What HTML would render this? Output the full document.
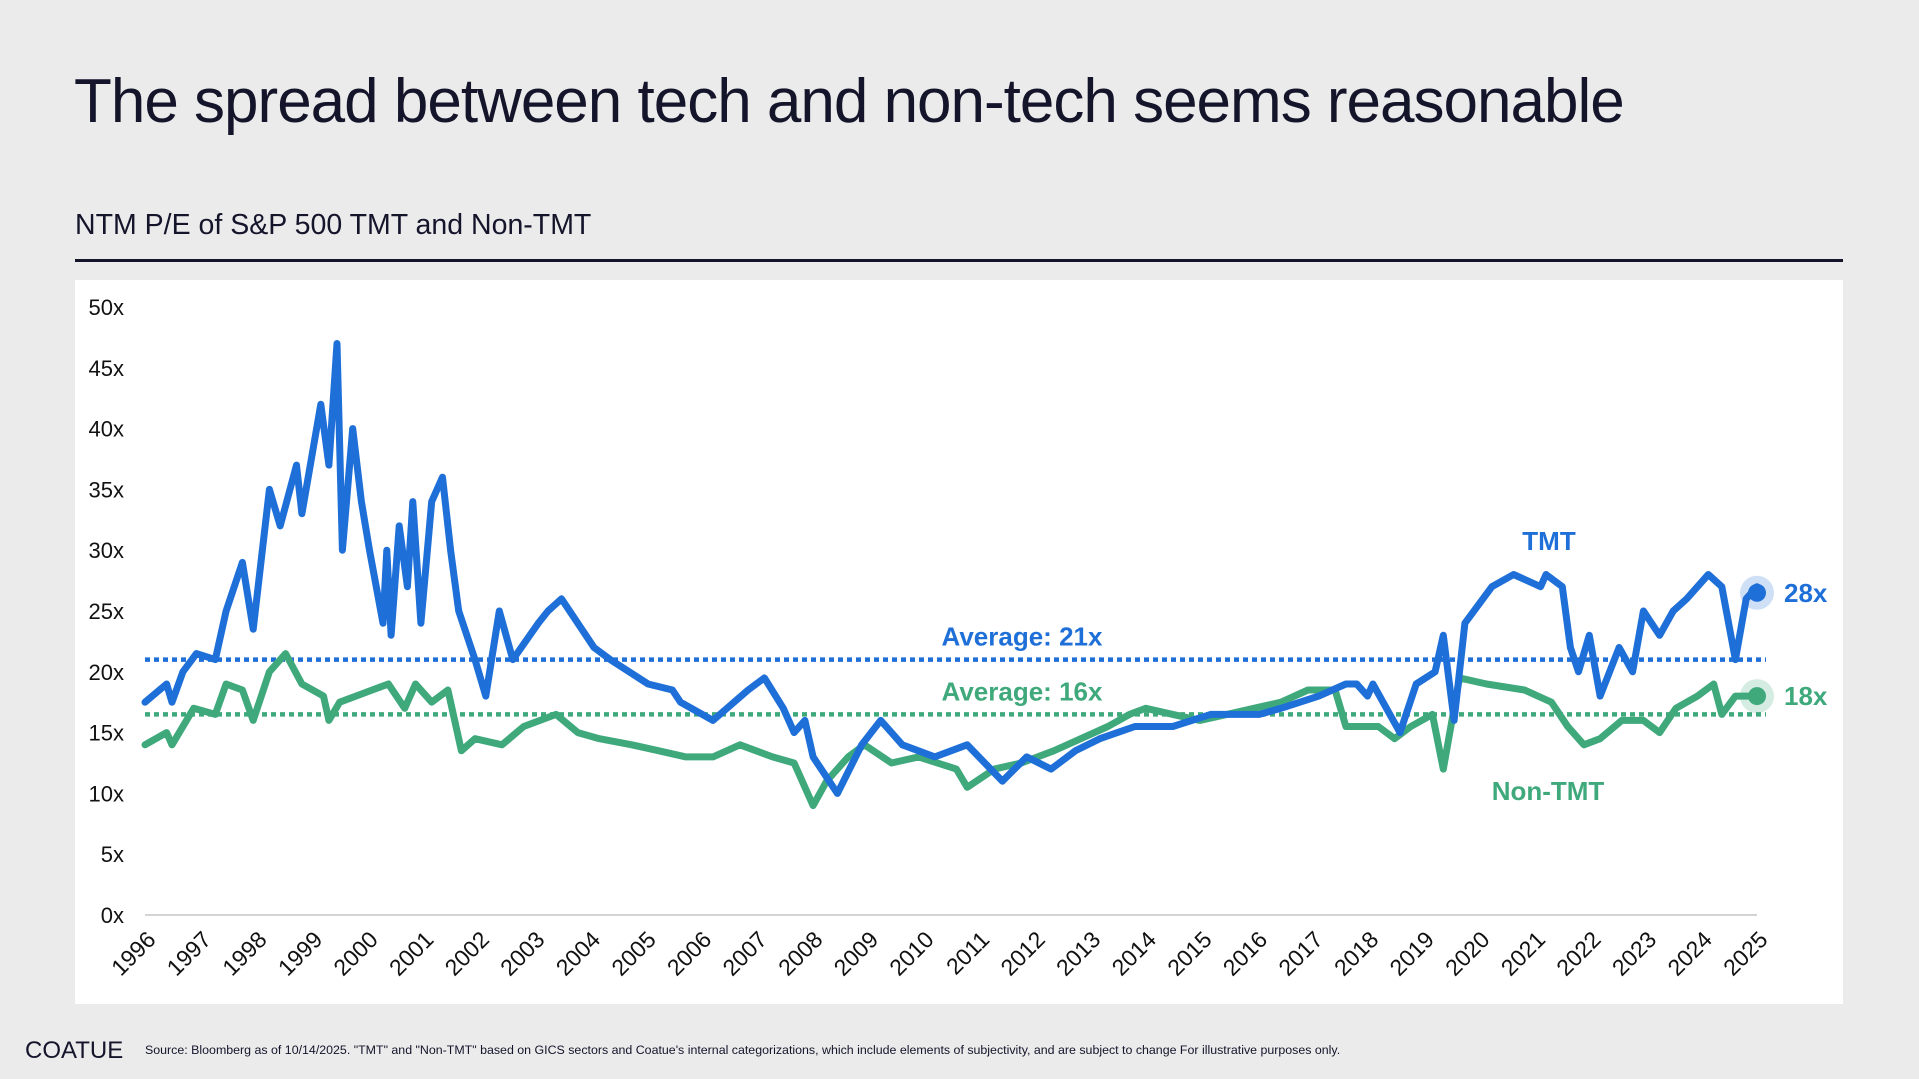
<!DOCTYPE html>
<html><head><meta charset="utf-8"><style>
body{margin:0;width:1919px;height:1079px;background:#ebebeb;font-family:"Liberation Sans",sans-serif;overflow:hidden;position:relative}
.t{position:absolute;white-space:nowrap}
</style></head><body>
<div class="t" style="left:74px;top:66px;font-size:62px;color:#14142b;letter-spacing:-1px">The spread between tech and non-tech seems reasonable</div>
<div class="t" style="left:75px;top:209px;font-size:28.5px;color:#14142b">NTM P/E of S&amp;P 500 TMT and Non-TMT</div>
<div style="position:absolute;left:75px;top:259px;width:1768px;height:3px;background:#14142b"></div>
<div style="position:absolute;left:75px;top:280px;width:1768px;height:724px;background:#fff"></div>
<svg id="chart" width="1919" height="1079" style="position:absolute;left:0;top:0" font-family="Liberation Sans, sans-serif"></svg>
<div class="t" style="left:25px;top:1037px;font-size:24px;color:#14142b">COATUE</div>
<div class="t" style="left:145px;top:1043px;font-size:12.4px;color:#14142b">Source: Bloomberg as of 10/14/2025. "TMT" and "Non-TMT" based on GICS sectors and Coatue's internal categorizations, which include elements of subjectivity, and are subject to change For illustrative purposes only.</div>
<script>
const yTicks=[0,5,10,15,20,25,30,35,40,45,50];
const xLabels=[1996,1997,1998,1999,2000,2001,2002,2003,2004,2005,2006,2007,2008,2009,2010,2011,2012,2013,2014,2015,2016,2017,2018,2019,2020,2021,2022,2023,2024,2025];
const tmtTime=[0,0.4,0.5,0.7,0.95,1.3,1.5,1.8,2.0,2.3,2.5,2.8,2.9,3.25,3.4,3.55,3.65,3.84,4.0,4.15,4.4,4.47,4.55,4.7,4.85,4.95,5.1,5.3,5.5,5.65,5.8,6.1,6.3,6.55,6.8,7.27,7.45,7.7,8.3,8.6,9.3,9.75,9.9,10.5,11.15,11.45,11.8,12.0,12.2,12.35,12.8,13.25,13.6,14.0,14.6,15.2,15.85,16.3,16.75,17.2,17.65,18.3,19.0,19.7,20.6,21.0,21.7,22.2,22.4,22.6,22.7,23.2,23.5,23.85,24.0,24.2,24.4,24.9,25.3,25.8,25.9,26.2,26.35,26.5,26.7,26.9,27.25,27.5,27.7,28.0,28.25,28.5,28.9,29.15,29.4,29.6,29.8];
const tmtPE=[17.5,19,17.5,20,21.5,21,25,29,23.5,35,32,37,33,42,37,47,30,40,34,30,24,30,23,32,27,34,24,34,36,30,25,21,18,25,21,24,25,26,22,21,19,18.5,17.5,16,18.5,19.5,17,15,16,13,10,14,16,14,13,14,11,13,12,13.5,14.5,15.5,15.5,16.5,16.5,17,18,19,19,18,19,15,19,20,23,16,24,27,28,27,28,27,22,20,23,18,22,20,25,23,25,26,28,27,21,26,27,26.5];
const nonTime=[0,0.4,0.5,0.9,1.3,1.5,1.8,2.0,2.3,2.6,2.9,3.3,3.4,3.6,4.2,4.5,4.8,5.0,5.3,5.6,5.85,6.1,6.6,7.0,7.6,8.0,8.4,9.0,9.5,10.0,10.5,11.0,11.6,12.0,12.35,12.6,13.0,13.3,13.8,14.3,15.0,15.2,15.7,16.2,16.8,17.3,17.8,18.2,18.5,19.0,19.5,20.0,20.5,21.0,21.5,22.0,22.2,22.8,23.1,23.4,23.8,24.0,24.2,24.3,24.8,25.5,26.0,26.3,26.6,26.9,27.3,27.7,28.0,28.3,28.7,29.0,29.15,29.4,29.8];
const nonPE=[14,15,14,17,16.5,19,18.5,16,20,21.5,19,18,16,17.5,18.5,19,17,19,17.5,18.5,13.5,14.5,14,15.5,16.5,15,14.5,14,13.5,13,13,14,13,12.5,9,11,13,14,12.5,13,12,10.5,12,12.5,13.5,14.5,15.5,16.5,17,16.5,16,16.5,17,17.5,18.5,18.5,15.5,15.5,14.5,15.5,16.5,12,17,19.5,19,18.5,17.5,15.5,14,14.5,16,16,15,17,18,19,16.5,18,18];
const averages=[21,16.5];
const endLabels=["28x","18x"];
const x0=145,x1=1757,tMax=29.8,y0=915,yUnit=12.16;
const xs=t=>x0+t/tMax*(x1-x0);
const ys=v=>y0-v*yUnit;
const svg=document.getElementById('chart');
const NS='http://www.w3.org/2000/svg';
function mk(tag,attrs,txt){const e=document.createElementNS(NS,tag);for(const k in attrs)e.setAttribute(k,attrs[k]);if(txt!==undefined)e.textContent=txt;svg.appendChild(e);return e;}
yTicks.forEach(v=>{
  const e=mk('text',{x:124,y:ys(v)+8,'text-anchor':'end','font-size':22,fill:'#111'},v+'x');
  
  
});
const ax=mk('line',{x1:x0,y1:y0,x2:x1,y2:y0,stroke:'#d4d4d4','stroke-width':2});


xLabels.forEach((yr,i)=>{
  const px=x0+i*(x1-x0)/(xLabels.length-1)+12;
  const e=mk('text',{x:px,y:y0+26,'text-anchor':'end','font-size':23,fill:'#111',transform:`rotate(-45 ${px} ${y0+26})`},yr);
  
  
});
const avgColors=['#1f6fd8','#3fa97c'];
averages.forEach((a,i)=>{
  const e=mk('line',{x1:x0,y1:ys(a),x2:1766,y2:ys(a),stroke:avgColors[i],'stroke-width':4.5,'stroke-dasharray':'5 4'});
  
  
});
function series(tt,vv,col,name){
  const d=tt.map((t,i)=>(i?'L':'M')+xs(t).toFixed(1)+','+ys(vv[i]).toFixed(1)).join(' ');
  const p=mk('path',{d:d,fill:'none',stroke:col,'stroke-width':7,'stroke-linejoin':'round','stroke-linecap':'round'});
  
  
  const lx=xs(tt[tt.length-1]),ly=ys(vv[vv.length-1]);
  const h=mk('circle',{cx:lx,cy:ly,r:17,fill:col,opacity:0.22});
  
  
  const c=mk('circle',{cx:lx,cy:ly,r:9,fill:col});
  
  
}
series(nonTime,nonPE,'#3fa97c','non-tmt-line');
series(tmtTime,tmtPE,'#1f6fd8','tmt-line');
const lbls=[
 ['average-tmt-label',1022,ys(averages[0])-14,'Average: '+Math.round(averages[0])+'x','#1f6fd8','middle'],
 ['average-non-tmt-label',1022,ys(averages[1])-14,'Average: 16x','#3fa97c','middle'],
 ['tmt-label',1549,550,'TMT','#1f6fd8','middle'],
 ['non-tmt-label',1548,800,'Non-TMT','#3fa97c','middle'],
 ['tmt-end-label',1784,ys(tmtPE[tmtPE.length-1])+9,endLabels[0],'#1f6fd8','start'],
 ['non-tmt-end-label',1784,ys(nonPE[nonPE.length-1])+9,endLabels[1],'#3fa97c','start']];
lbls.forEach(l=>{
  const e=mk('text',{x:l[1],y:l[2],'text-anchor':l[5],'font-size':26,'font-weight':'bold',fill:l[4]},l[3]);
  
  
});
</script>
</body></html>
